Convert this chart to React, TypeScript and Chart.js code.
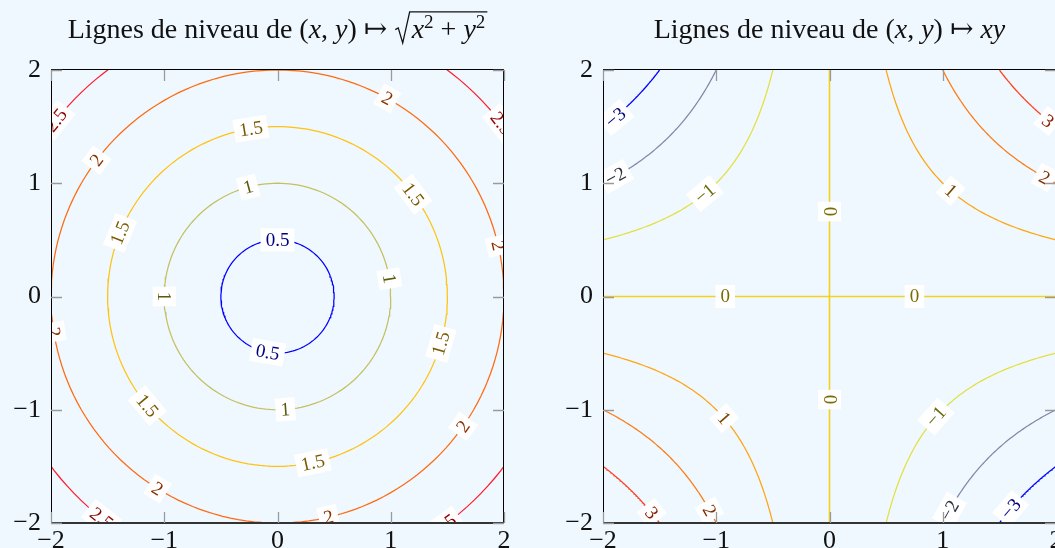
import React, { useEffect, useRef } from 'react';
import { Chart, registerables } from 'chart.js';
Chart.register(...registerables);

// ---------- data ----------
const tickValues = [-2, -1, 0, 1, 2];

// left chart: levels of sqrt(x^2 + y^2)
const radiusLevels = [0.5, 1, 1.5, 2, 2.5];
const radiusLineColors = ['#0000ff', '#c4c060', '#ffc20e', '#ff6a10', '#ff1a2a'];
const radiusLabelColors = ['#000080', '#5a5a10', '#7a5a00', '#8a3000', '#900000'];
// polar angle (degrees) of each inline label on each level circle
const radiusLabelAngles = [
  [90, 260],
  [105, 180, 9, 274],
  [99, 37, 158, 344, 220, 282],
  [61, 143, 13, 189, 325, 238, 283],
  [141.5, 37.7, 231.6, 306.2],
];

// right chart: levels of x*y
const productLevels = [-3, -2, -1, 0, 1, 2, 3];
const productLineColors = ['#0000ff', '#8088a8', '#e2e040', '#f2d21a', '#ffa510', '#ff7a10', '#ff4020'];
const productLabelColors = ['#000080', '#303040', '#6a6a10', '#7a6a00', '#7a4a00', '#803000', '#8a2000'];
// position (x, y) of each inline label on each level curve
const productLabelPoints = [
  [[-1.89, 1.58], [1.6, -1.875]],
  [[-1.89, 1.06], [1.06, -1.89]],
  [[-1.1, 0.91], [0.94, -1.06]],
  [[0, 0.75], [-0.92, 0], [0.75, 0], [0, -0.91]],
  [[1.07, 0.935], [-0.93, -1.075]],
  [[1.9, 1.05], [-1.06, -1.89]],
  [[1.93, 1.55], [-1.57, -1.91]],
];

// ---------- helpers ----------
type Pt = { x: number; y: number };
type Seg = { text: string; italic?: boolean; sup?: boolean } | { sqrt: Seg[] };

const SERIF = '"Liberation Serif", "DejaVu Serif", serif';
const TITLE_SIZE = 28;
const TICK_SIZE = 26;
const LABEL_SIZE = 19;
const LINE_W = 1.25;

const fmt = (v: number) => (v < 0 ? '\u2212' + Math.abs(v) : String(v));

function circleCurve(r: number): Pt[] {
  const pts: Pt[] = [];
  for (let k = 0; k <= 360; k += 2) {
    const a = (k * Math.PI) / 180;
    pts.push({ x: r * Math.cos(a), y: r * Math.sin(a) });
  }
  return pts;
}

function productCurves(c: number): Pt[][] {
  if (c === 0) {
    return [
      [{ x: -2, y: 0 }, { x: 2, y: 0 }],
      [{ x: 0, y: -2 }, { x: 0, y: 2 }],
    ];
  }
  const a = Math.abs(c);
  const n = 80;
  const b1: Pt[] = [];
  const b2: Pt[] = [];
  for (let i = 0; i <= n; i++) {
    const x = (a / 2) * Math.pow(4 / a, i / n);
    const s = c > 0 ? 1 : -1;
    b1.push({ x: s * x, y: a / x });
    b2.push({ x: -s * x, y: -a / x });
  }
  return [b1, b2];
}

function segFont(s: any, size: number) {
  const sz = s.sup ? size * 0.68 : size;
  return `${s.italic ? 'italic ' : ''}${sz}px ${SERIF}`;
}

function segWidth(ctx: CanvasRenderingContext2D, s: Seg, size: number): number {
  if ('sqrt' in s) {
    return size * 0.62 + s.sqrt.reduce((w, c) => w + segWidth(ctx, c, size), 0) + 2;
  }
  ctx.font = segFont(s, size);
  return ctx.measureText(s.text).width;
}

function drawSeg(ctx: CanvasRenderingContext2D, s: Seg, x: number, base: number, size: number): number {
  if ('sqrt' in s) {
    const inner = s.sqrt.reduce((w, c) => w + segWidth(ctx, c, size), 0);
    const rw = size * 0.62;
    const top = base - size * 0.93;
    ctx.save();
    ctx.strokeStyle = '#111';
    ctx.lineWidth = 1.3;
    ctx.beginPath();
    ctx.moveTo(x + 1, base - size * 0.3);
    ctx.lineTo(x + size * 0.14, base - size * 0.36);
    ctx.lineTo(x + size * 0.3, base + size * 0.18);
    ctx.lineTo(x + rw - 2, top);
    ctx.lineTo(x + rw + inner + 2, top);
    ctx.stroke();
    ctx.restore();
    let cx = x + rw;
    for (const c of s.sqrt) cx += drawSeg(ctx, c, cx, base, size);
    return rw + inner + 2;
  }
  ctx.font = segFont(s, size);
  ctx.fillText(s.text, x, s.sup ? base - size * 0.34 : base);
  return ctx.measureText(s.text).width;
}

type Label = { x: number; y: number; text: string; color: string };

function makePlugins(
  title: Seg[],
  labels: Label[],
  tangent: (x: number, y: number) => [number, number]
) {
  return [
    {
      id: 'contourDecor',
      afterDatasetsDraw(chart: any) {
        const { ctx, chartArea: ca, scales } = chart;
        const xs = scales.x;
        const ys = scales.y;
        // inline labels
        ctx.save();
        ctx.beginPath();
        ctx.rect(ca.left, ca.top, ca.right - ca.left, ca.bottom - ca.top);
        ctx.clip();
        ctx.font = `${LABEL_SIZE}px ${SERIF}`;
        ctx.textAlign = 'center';
        ctx.textBaseline = 'middle';
        for (const l of labels) {
          const px = xs.getPixelForValue(l.x);
          const py = ys.getPixelForValue(l.y);
          const [tx, ty] = tangent(l.x, l.y);
          const dx = xs.getPixelForValue(l.x + tx * 0.01) - px;
          const dy = ys.getPixelForValue(l.y + ty * 0.01) - py;
          let ang = Math.atan2(dy, dx);
          if (ang > Math.PI / 2 + 1e-9) ang -= Math.PI;
          if (ang <= -Math.PI / 2 + 1e-9) ang += Math.PI;
          const w = ctx.measureText(l.text).width + 10;
          const h = LABEL_SIZE + 4;
          ctx.save();
          ctx.translate(px, py);
          ctx.rotate(ang);
          ctx.fillStyle = '#ffffff';
          ctx.fillRect(-w / 2, -h / 2, w, h);
          ctx.fillStyle = l.color;
          ctx.fillText(l.text, 0, 1);
          ctx.restore();
        }
        ctx.restore();

        // frame
        ctx.save();
        ctx.strokeStyle = '#000';
        ctx.lineWidth = 1;
        ctx.strokeRect(Math.round(ca.left) + 0.5, Math.round(ca.top) - 0.5, Math.round(ca.right - ca.left) - 1, Math.round(ca.bottom - ca.top));
        ctx.strokeStyle = '#333';
        ctx.lineWidth = 2;
        ctx.beginPath();
        ctx.moveTo(ca.left, Math.round(ca.bottom));
        ctx.lineTo(ca.right, Math.round(ca.bottom));
        ctx.stroke();
        // inward ticks
        ctx.strokeStyle = '#9a9a9a';
        ctx.lineWidth = 1.3;
        const L = 11;
        ctx.beginPath();
        for (const v of tickValues) {
          const px = Math.round(xs.getPixelForValue(v)) + 0.5;
          ctx.moveTo(px, ca.bottom);
          ctx.lineTo(px, ca.bottom - L);
          ctx.moveTo(px, ca.top);
          ctx.lineTo(px, ca.top + L);
          const py = Math.round(ys.getPixelForValue(v)) + 0.5;
          ctx.moveTo(ca.left, py);
          ctx.lineTo(ca.left + L, py);
          ctx.moveTo(ca.right, py);
          ctx.lineTo(ca.right - L, py);
        }
        ctx.stroke();
        ctx.restore();

        // title
        ctx.save();
        ctx.fillStyle = '#111';
        ctx.textAlign = 'left';
        ctx.textBaseline = 'alphabetic';
        const total = title.reduce((w, s) => w + segWidth(ctx, s, TITLE_SIZE), 0);
        let cx = (ca.left + ca.right) / 2 - total / 2;
        const base = ca.top - 32;
        for (const s of title) cx += drawSeg(ctx, s, cx, base, TITLE_SIZE);
        ctx.restore();
      },
    },
  ];
}

function baseOptions() {
  const tickFont = { family: SERIF, size: TICK_SIZE };
  return {
    animation: false as const,
    responsive: false,
    layout: { padding: { top: 62, right: 56, left: 0, bottom: 0 } },
    plugins: { legend: { display: false }, tooltip: { enabled: false }, title: { display: false } },
    elements: { point: { radius: 0 }, line: { borderWidth: LINE_W, tension: 0 } },
    scales: {
      x: {
        type: 'linear' as const,
        min: -2,
        max: 2,
        afterBuildTicks: (s: any) => {
          s.ticks = tickValues.map((v) => ({ value: v }));
        },
        afterFit: (s: any) => {
          s.height = 45;
        },
        ticks: { font: tickFont, color: '#111', padding: 3, maxRotation: 0, callback: (v: any) => fmt(Number(v)) },
        grid: { display: false, drawTicks: false },
        border: { display: false },
      },
      y: {
        type: 'linear' as const,
        min: -2,
        max: 2,
        afterBuildTicks: (s: any) => {
          s.ticks = tickValues.map((v) => ({ value: v }));
        },
        afterFit: (s: any) => {
          s.width = 43;
        },
        ticks: { font: tickFont, color: '#111', padding: 10, callback: (v: any) => fmt(Number(v)) },
        grid: { display: false, drawTicks: false },
        border: { display: false },
      },
    },
  };
}

function RadiusChart() {
  const ref = useRef<HTMLCanvasElement>(null);
  useEffect(() => {
    const datasets = radiusLevels.map((r, i) => ({
      data: circleCurve(r),
      showLine: true,
      borderColor: radiusLineColors[i],
      borderWidth: LINE_W,
      pointRadius: 0,
      fill: false,
    }));
    const labels: Label[] = [];
    radiusLevels.forEach((r, i) =>
      radiusLabelAngles[i].forEach((deg) => {
        const a = (deg * Math.PI) / 180;
        labels.push({ x: r * Math.cos(a), y: r * Math.sin(a), text: fmt(r), color: radiusLabelColors[i] });
      })
    );
    const title: Seg[] = [
      { text: 'Lignes de niveau de (' },
      { text: 'x', italic: true },
      { text: ', ' },
      { text: 'y', italic: true },
      { text: ') \u21A6 ' },
      {
        sqrt: [
          { text: 'x', italic: true },
          { text: '2', sup: true },
          { text: ' + ' },
          { text: 'y', italic: true },
          { text: '2', sup: true },
        ],
      },
    ];
    const chart = new Chart(ref.current as HTMLCanvasElement, {
      type: 'scatter',
      data: { datasets },
      options: baseOptions() as any,
      plugins: makePlugins(title, labels, (x, y) => [-y, x]) as any,
    });
    return () => chart.destroy();
  }, []);
  return <canvas ref={ref} width={552} height={560} style={{ display: 'block' }} />;
}

function ProductChart() {
  const ref = useRef<HTMLCanvasElement>(null);
  useEffect(() => {
    const datasets: any[] = [];
    productLevels.forEach((c, i) => {
      productCurves(c).forEach((pts) =>
        datasets.push({
          data: pts,
          showLine: true,
          borderColor: productLineColors[i],
          borderWidth: c === 0 ? 1.6 : LINE_W,
          pointRadius: 0,
          fill: false,
        })
      );
    });
    const labels: Label[] = [];
    productLevels.forEach((c, i) =>
      productLabelPoints[i].forEach(([x, y]) =>
        labels.push({ x, y, text: fmt(c), color: productLabelColors[i] })
      )
    );
    const title: Seg[] = [
      { text: 'Lignes de niveau de (' },
      { text: 'x', italic: true },
      { text: ', ' },
      { text: 'y', italic: true },
      { text: ') \u21A6 ' },
      { text: 'xy', italic: true },
    ];
    const chart = new Chart(ref.current as HTMLCanvasElement, {
      type: 'scatter',
      data: { datasets },
      options: baseOptions() as any,
      plugins: makePlugins(title, labels, (x, y) => [x, -y]) as any,
    });
    return () => chart.destroy();
  }, []);
  return <canvas ref={ref} width={552} height={560} style={{ display: 'block' }} />;
}

export default function App() {
  return (
    <div style={{ position: 'fixed', inset: 0, overflow: 'hidden', background: '#f0f8ff' }}>
      <div style={{ position: 'absolute', left: 8, top: 8 }}>
        <RadiusChart />
      </div>
      <div style={{ position: 'absolute', left: 560, top: 8 }}>
        <ProductChart />
      </div>
    </div>
  );
}
